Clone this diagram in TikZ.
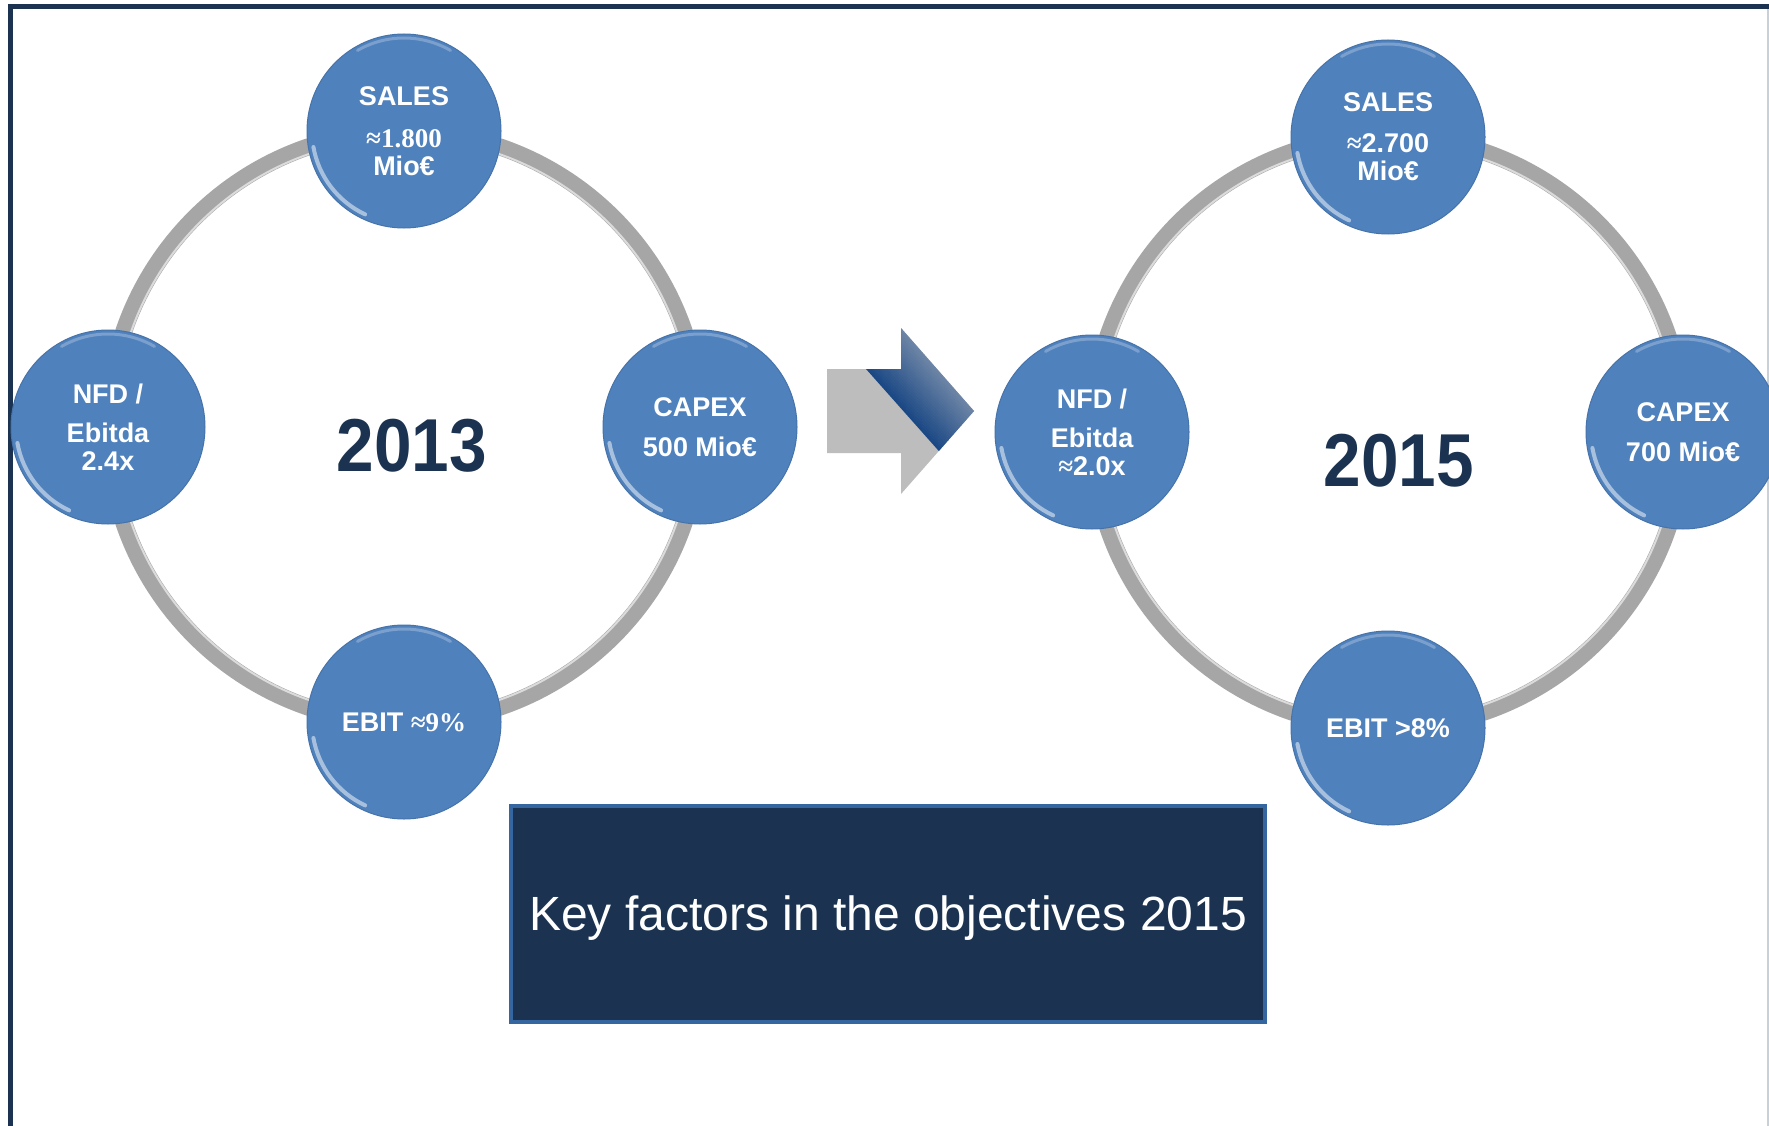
\documentclass[tikz,border=0pt]{standalone}
\usepackage{graphicx}
\usepackage{fontspec}
\setmainfont{Liberation Sans}
\newfontfamily\serifb{Liberation Serif}
\definecolor{navy}{RGB}{27,51,80}
\definecolor{boxblue}{RGB}{53,102,160}
\definecolor{circfill}{RGB}{79,129,189}
\definecolor{circrim}{RGB}{70,115,170}
\definecolor{ringgray}{RGB}{166,166,166}
\definecolor{arrowgray}{RGB}{189,189,189}
\definecolor{arrowdark}{RGB}{26,72,132}
\definecolor{arrowlight}{RGB}{135,152,177}
\definecolor{edgegray}{RGB}{200,208,216}
\begin{document}
\begin{tikzpicture}[x=1pt,y=-1pt,
  kf/.style={circle, minimum size=194pt, inner sep=0pt, fill=circfill, draw=circrim, line width=1pt,
    text=white, align=center, font=\fontsize{27}{28}\selectfont\bfseries},
  ringline/.style={draw=ringgray, line width=17pt},
  ringhl/.style={draw=white, opacity=0.6, line width=2pt},
  hl/.style={draw=white, line width=4pt, opacity=0.5, line cap=round},
  hltop/.style={draw=white, line width=3pt, opacity=0.25, line cap=round},
  year/.style={text=navy, font=\fontsize{75}{75}\selectfont\bfseries, inner sep=0pt},
  keybox/.style={draw=boxblue, line width=4pt, fill=navy, text=white, text depth=0pt,
    font=\fontsize{48}{50}\selectfont, minimum width=754pt, minimum height=216pt, inner sep=0pt},
  frameline/.style={draw=navy, line width=5pt},
  rightedge/.style={draw=edgegray, line width=1.5pt}]
\useasboundingbox (0,0) rectangle (1769,1126);
\fill[white] (0,0) rectangle (1769,1126);
% frame
\draw[frameline] (10.5,1126) -- (10.5,6.5) -- (1769,6.5);
\draw[rightedge] (1768,9) -- (1768,1126);
% rings
\coordinate (cL) at (404,427);
\coordinate (cR) at (1388,432);
\draw[ringline] (cL) circle[radius=296];
\draw[ringhl] (cL) circle[radius=289];
\draw[ringline] (cR) circle[radius=296];
\draw[ringhl] (cR) circle[radius=289];
% left circles
\node[kf] (salesL) at (404,131) {SALES\\[14pt]{\serifb ≈1.800}\\Mio€};
\node[kf] (nfdL) at (108,427) {NFD /\\[11pt]Ebitda\\2.4x};
\node[kf] (capexL) at (700,427) {CAPEX\\[12pt]500 Mio€};
\node[kf] (ebitL) at (404,722) {EBIT {\serifb ≈9\%}};
% right circles
\node[kf] (salesR) at (1388,137) {SALES\\[13pt]{\serifb ≈}2.700\\Mio€};
\node[kf] (nfdR) at (1092,432) {NFD /\\[11pt]Ebitda\\{\serifb ≈}2.0x};
\node[kf] (capexR) at (1683,432) {CAPEX\\[12pt]700 Mio€};
\node[kf] (ebitR) at (1388,728) {EBIT >8\%};
\foreach \n in {salesL,nfdL,capexL,ebitL,salesR,nfdR,capexR,ebitR}{
  \draw[hl] ([shift={(115:92)}]\n.center) arc[start angle=115, end angle=170, radius=92];
  \draw[hltop] ([shift={(240:93)}]\n.center) arc[start angle=240, end angle=300, radius=93];
}
% years
\node[year] (yL) at (412,446) {\scalebox{0.9}[1]{2013}};
\node[year] (yR) at (1399,461) {\scalebox{0.9}[1]{2015}};
% arrow
\fill[arrowgray] (827,369) -- (901,369) -- (901,328) -- (974,411) -- (901,494) -- (901,453) -- (827,453) -- cycle;
\begin{scope}
  \clip (866,369) -- (901,369) -- (901,328) -- (974,411) -- (938,452) -- cycle;
  \begin{scope}[shift={(866,369)}, rotate=41.6]
    \foreach \i in {0,...,34}{
      \pgfmathsetmacro\p{100-\i*100/34}
      \fill[arrowdark!\p!arrowlight] (\i*2,-250) rectangle ++(2.4,500);
    }
  \end{scope}
\end{scope}
% key box
\node[keybox] (key) at (888,913.5) {Key factors in the objectives 2015};
\end{tikzpicture}
\end{document}
